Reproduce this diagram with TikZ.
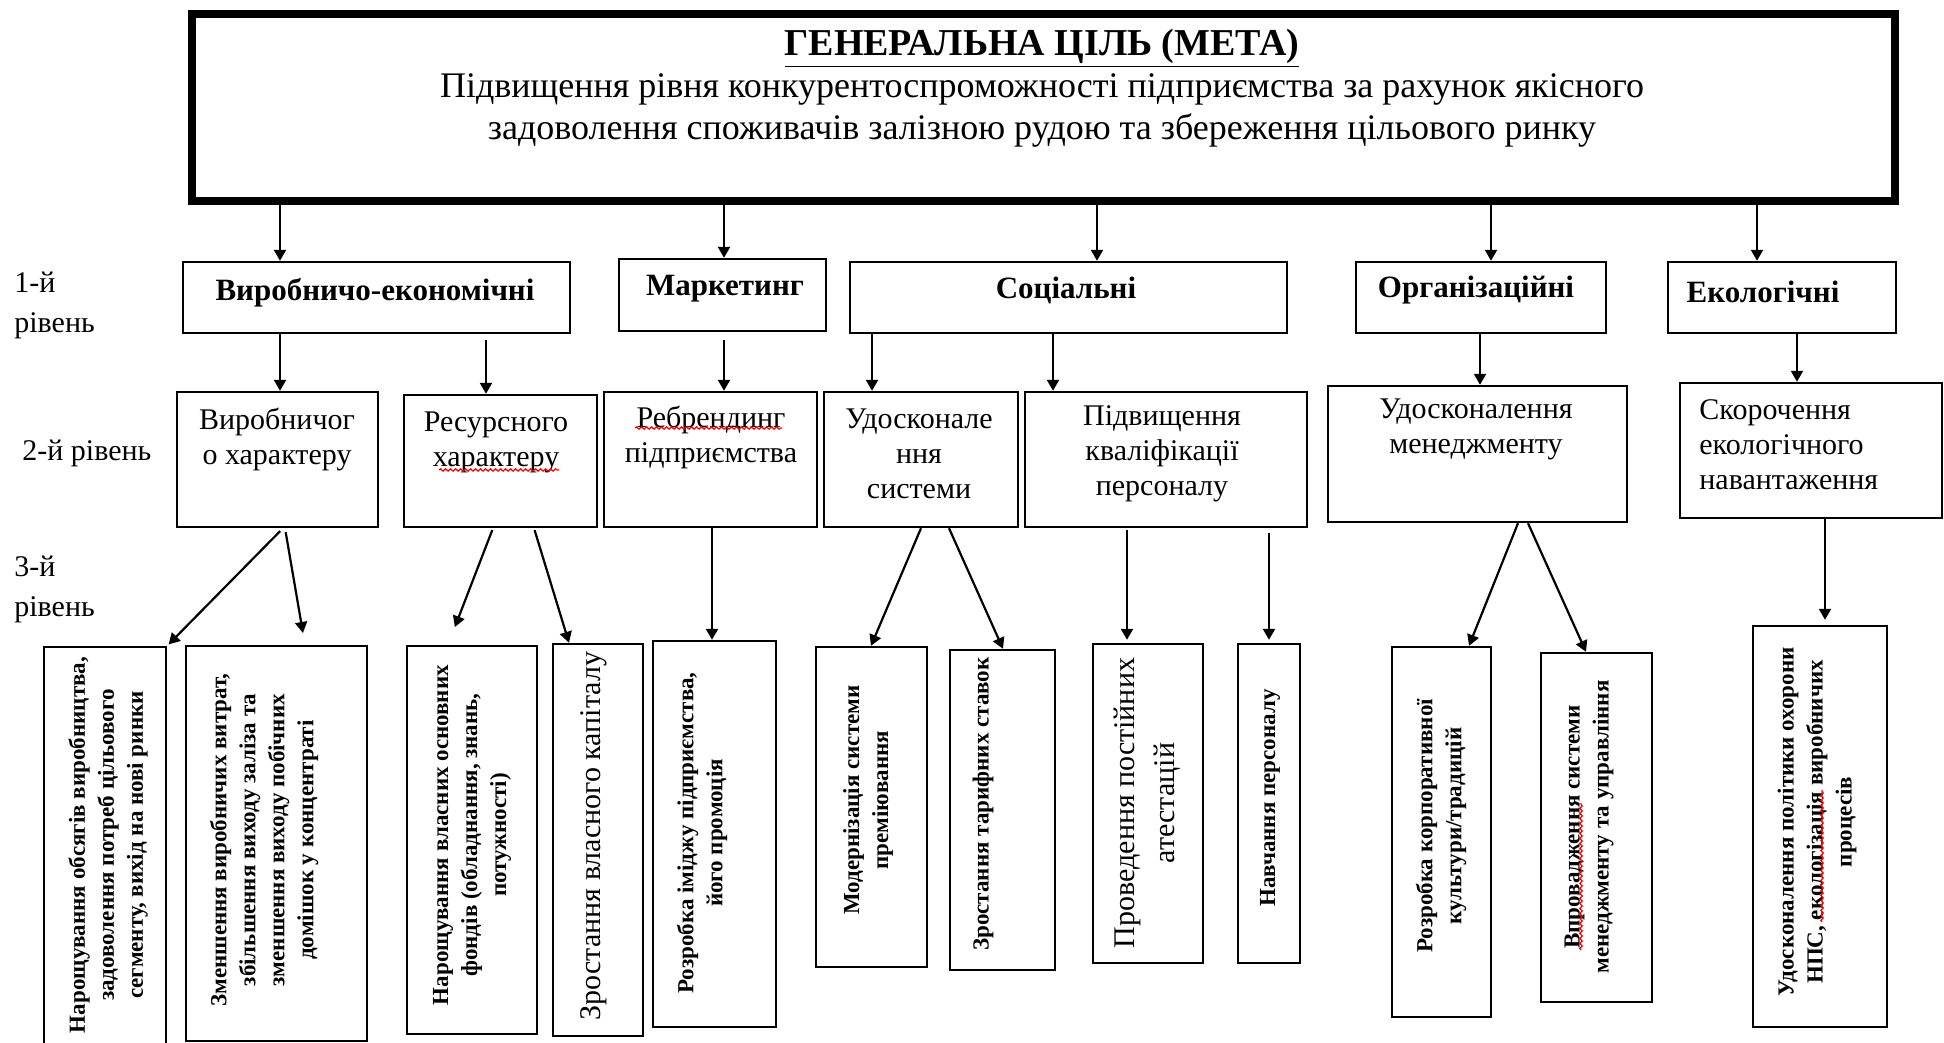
\documentclass[tikz,border=0pt]{standalone}
\usepackage{fontspec}
\setmainfont{Liberation Serif}
\usetikzlibrary{arrows.meta,fit,decorations.pathmorphing}

\begin{document}
\begin{tikzpicture}[>={Triangle[length=5.5pt,width=6pt]},x=0.5pt,y=-0.5pt,
		goal/.style={draw,line width=4.3pt,inner sep=0pt},
		box/.style={draw,line width=1.2pt,inner sep=0pt},
		arr/.style={->,line width=1.1pt},
		goaltext/.style={align=center,font=\fontsize{18}{21}\selectfont},
		head/.style={font=\fontsize{15.5}{18}\selectfont\bfseries},
		sub/.style={align=center,font=\fontsize{15}{17.5}\selectfont},
		levtext/.style={align=left,anchor=west,inner sep=0pt,font=\fontsize{15}{20}\selectfont},
		vbold/.style={rotate=90,align=center,font=\fontsize{11.5}{14.5}\selectfont\bfseries},
		vreg/.style={rotate=90,align=center,font=\fontsize{15}{20}\selectfont},
		spell/.style={red,line width=0.6pt,decorate,decoration={snake,amplitude=0.6pt,segment length=2.5pt}}]
		\useasboundingbox (0,0) rectangle (1944,1043);
		\node[goal,fit={(192,14) (1895,201)}] (goal) {};
		\node[goaltext] (goaltxt) at (1042,88) {\underline{\textbf{\fontsize{19}{21}\selectfont ГЕНЕРАЛЬНА ЦІЛЬ (МЕТА)}}\\Підвищення рівня конкурентоспроможності підприємства за рахунок якісного\\задоволення споживачів залізною рудою та збереження цільового ринку};
		\node[levtext] (lev1) at (14,305) {1-й\\рівень};
		\node[levtext] (lev2) at (22,453) {2-й рівень};
		\node[levtext] (lev3) at (14,589) {3-й\\рівень};
		\node[box,fit={(183,262) (570,333)}] (l1a) {};
		\node[box,fit={(619,259) (826,331)}] (l1b) {};
		\node[box,fit={(850,262) (1287,333)}] (l1c) {};
		\node[box,fit={(1356,262) (1606,333)}] (l1d) {};
		\node[box,fit={(1668,262) (1896,333)}] (l1e) {};
		\node[head] (t1a) at (375,293) {Виробничо-економічні};
		\node[head] (t1b) at (725,289) {Маркетинг};
		\node[head] (t1c) at (1066,290) {Соціальні};
		\node[head] (t1d) at (1476,290) {Організаційні};
		\node[head] (t1e) at (1763,292) {Екологічні};
		\node[box,fit={(177,392) (378,527)}] (l2a) {};
		\node[box,fit={(404,395) (597,527)}] (l2b) {};
		\node[box,fit={(604,392) (817,527)}] (l2c) {};
		\node[box,fit={(824,392) (1018,527)}] (l2d) {};
		\node[box,fit={(1025,392) (1307,527)}] (l2e) {};
		\node[box,fit={(1328,386) (1627,522)}] (l2f) {};
		\node[box,fit={(1680,383) (1942,518)}] (l2g) {};
		\node[sub] (t2a) at (277,439) {Виробничог\\о характеру};
		\node[sub] (t2b) at (496,442) {Ресурсного\\характеру};
		\node[sub] (t2c) at (711,437) {Ребрендинг\\підприємства};
		\node[sub] (t2d) at (919,454) {Удосконале\\ння\\системи};
		\node[sub] (t2e) at (1162,454) {Підвищення\\кваліфікації\\персоналу};
		\node[sub] (t2f) at (1476,429) {Удосконалення\\менеджменту};
		\node[sub,align=left,anchor=west,inner sep=0pt] (t2g) at (1699,445) {Скорочення\\екологічного\\навантаження};
		\node[box,fit={(44,647) (166,1060)}] (l3a) {};
		\node[box,fit={(186,646) (367,1041)}] (l3b) {};
		\node[box,fit={(407,646) (537,1034)}] (l3c) {};
		\node[box,fit={(553,644) (643,1036)}] (l3d) {};
		\node[box,fit={(653,641) (776,1027)}] (l3e) {};
		\node[box,fit={(816,647) (927,967)}] (l3f) {};
		\node[box,fit={(950,650) (1055,970)}] (l3g) {};
		\node[box,fit={(1093,644) (1203,963)}] (l3h) {};
		\node[box,fit={(1238,644) (1300,963)}] (l3i) {};
		\node[box,fit={(1392,647) (1491,1017)}] (l3j) {};
		\node[box,fit={(1541,653) (1652,1002)}] (l3k) {};
		\node[box,fit={(1753,626) (1887,1027)}] (l3l) {};
		\node[vbold] (t3a) at (108,845) {Нарощування обсягів виробництва,\\задоволення потреб цільового\\сегменту, вихід на нові ринки};
		\node[vbold] (t3b) at (264,840) {Зменшення виробничих витрат,\\збільшення виходу заліза та\\зменшення виходу побічних\\домішок у концентраті};
		\node[vbold] (t3c) at (472,835) {Нарощування власних основних\\фондів (обладнання, знань,\\потужності)};
		\node[vreg] (t3d) at (594,836) {Зростання власного капіталу};
		\node[vbold] (t3e) at (702,833) {Розробка іміджу підприємства,\\його промоція};
		\node[vbold] (t3f) at (868,800) {Модернізація системи\\преміювання};
		\node[vbold] (t3g) at (983,804) {Зростання тарифних ставок};
		\node[vreg] (t3h) at (1147,803) {Проведення постійних\\атестацій};
		\node[vbold] (t3i) at (1270,798) {Навчання персоналу};
		\node[vbold] (t3j) at (1441,826) {Розробка корпоративної\\культури/традицій};
		\node[vbold] (t3k) at (1589,827) {Впровадження системи\\менеджменту та управління};
		\node[vbold] (t3l) at (1817,822) {Удосконалення політики охорони\\НПС, екологізація виробничих\\процесів};
		\draw[spell] (635,428) -- (782,428);
		\draw[spell] (439,470) -- (559,470);
		\draw[spell] (1581,950) -- (1581,803);
		\draw[spell] (1822,922) -- (1822,790);
		\draw[arr] (goal.south -| 280,0) -- (l1a.north -| 280,0);
		\draw[arr] (goal.south -| 724,0) -- (l1b.north -| 724,0);
		\draw[arr] (goal.south -| 1097,0) -- (l1c.north -| 1097,0);
		\draw[arr] (goal.south -| 1491,0) -- (l1d.north -| 1491,0);
		\draw[arr] (goal.south -| 1757,0) -- (l1e.north -| 1757,0);
		\draw[arr] (l1a.south -| 280,0) -- (l2a.north -| 280,0);
		\draw[arr,shorten <=3pt] (l1a.south -| 486,0) -- (l2b.north -| 486,0);
		\draw[arr,shorten <=4pt] (l1b.south -| 724,0) -- (l2c.north -| 724,0);
		\draw[arr] (l1c.south -| 872,0) -- (l2d.north -| 872,0);
		\draw[arr] (l1c.south -| 1053,0) -- (l2e.north -| 1053,0);
		\draw[arr] (l1d.south -| 1480,0) -- (l2f.north -| 1480,0);
		\draw[arr] (l1e.south -| 1797,0) -- (l2g.north -| 1797,0);
		\draw[arr,shorten <=2pt,shorten >=1pt] (l2a.south -| 283,0) -- (l3a.north east);
		\draw[arr,shorten <=2pt,shorten >=6pt] (l2a.south -| 285,0) -- (l3b.north -| 305,0);
		\draw[arr,shorten <=1pt,shorten >=9.5pt] (l2b.south -| 493,0) -- (l3c.north -| 448,0);
		\draw[arr,shorten <=1pt] (l2b.south -| 534,0) -- (l3d.north -| 569,0);
		\draw[arr] (l2c.south -| 712,0) -- (l3e.north -| 712,0);
		\draw[arr] (l2d.south -| 921,0) -- (l3f.north -| 871,0);
		\draw[arr] (l2d.south -| 949,0) -- (l3g.north -| 1003,0);
		\draw[arr,shorten <=1pt,shorten >=1.5pt] (l2e.south -| 1127,0) -- (l3h.north -| 1127,0);
		\draw[arr,shorten <=2.5pt,shorten >=1.5pt] (l2e.south -| 1269,0) -- (l3i.north -| 1269,0);
		\draw[arr] (l2f.south -| 1518,0) -- (l3j.north -| 1469,0);
		\draw[arr] (l2f.south -| 1528,0) -- (l3k.north -| 1586,0);
		\draw[arr,shorten >=2.5pt] (l2g.south -| 1825,0) -- (l3l.north -| 1825,0);
\end{tikzpicture}
\end{document}
